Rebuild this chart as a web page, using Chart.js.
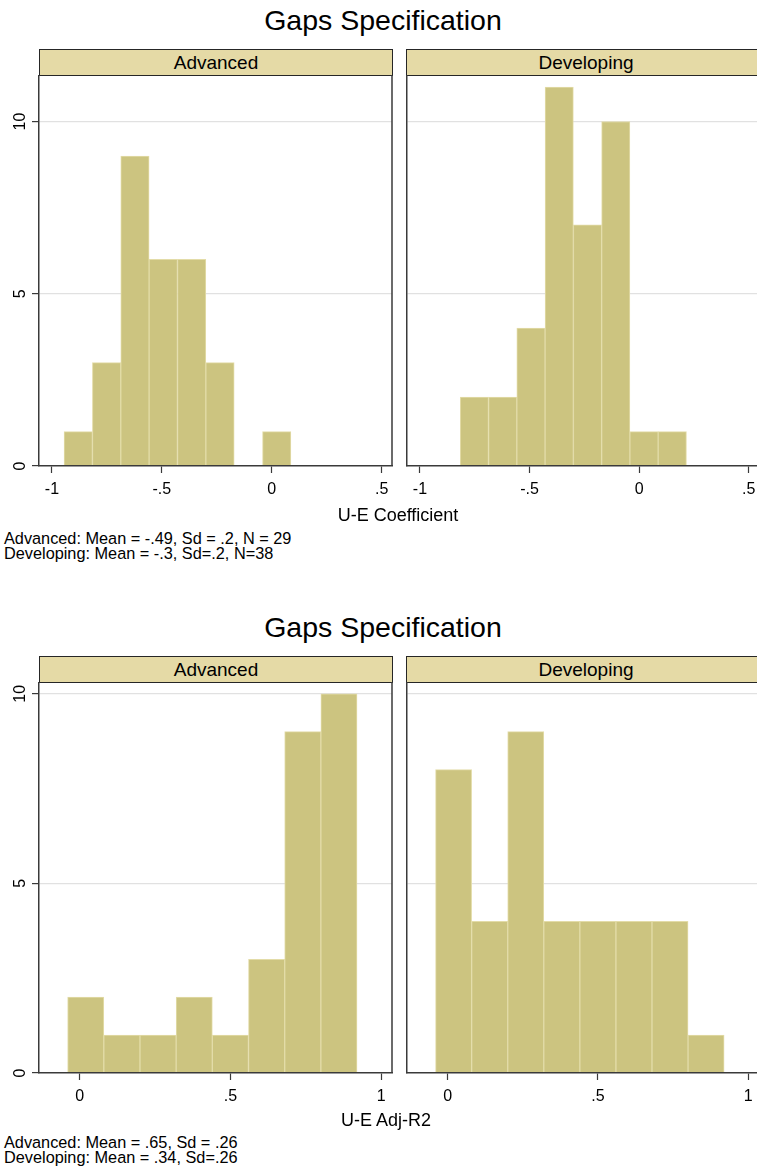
<!DOCTYPE html>
<html>
<head>
<meta charset="utf-8">
<script src="https://cdn.jsdelivr.net/npm/chart.js@4.4.1/dist/chart.umd.min.js"></script>
<style>
  html, body { margin: 0; padding: 0; background: #fff; overflow: hidden; }
  body { width: 757px; height: 1171px; position: relative; font-family: "Liberation Sans", Arial, Helvetica, sans-serif; color: #000; }
  .abs { position: absolute; }
  .title { left: 0; width: 766px; height: 30px; line-height: 30px; text-align: center; font-size: 28.5px; }
  .strip { background: #E5DAA6; border: 1.5px solid #262626; box-sizing: border-box; height: 27px;
           display: flex; align-items: center; justify-content: center; font-size: 19px; }
  .xtitle { left: 0; height: 24px; line-height: 24px; text-align: center; font-size: 18px; }
  .note { left: 4px; font-size: 16.3px; line-height: 15px; white-space: nowrap; }
  canvas { position: absolute; }
</style>
</head>
<body>
<script>
// ---- data -------------------------------------------------------------
const panelNames = ['Advanced', 'Developing'];

// U-E coefficient histogram: lower bin edges, common bin width, counts
const coefBins = [-0.945, -0.816, -0.687, -0.558, -0.429, -0.300, -0.171, -0.042, 0.087];
const coefBinWidth = 0.129;
const coefAdvanced = [1, 3, 9, 6, 6, 3, 0, 1, 0];
const coefDeveloping = [0, 2, 2, 4, 11, 7, 10, 1, 1];
const coefTicks = [-1, -0.5, 0, 0.5];
const coefTickLabels = ['-1', '-.5', '0', '.5'];
const coefRange = [-1.059, 0.547];
const coefCountMax = 11.35;

// U-E adjusted R2 histogram
const r2Bins = [-0.04, 0.08, 0.20, 0.32, 0.44, 0.56, 0.68, 0.80];
const r2BinWidth = 0.12;
const r2Advanced = [2, 1, 1, 2, 1, 3, 9, 10];
const r2Developing = [8, 4, 9, 4, 4, 4, 4, 1];
const r2Ticks = [0, 0.5, 1];
const r2TickLabels = ['0', '.5', '1'];
const r2Range = [-0.135, 1.036];
const r2CountMax = 10.31;

const countTicks = [0, 5, 10];
const countTickLabels = ['0', '5', '10'];

const figureTitle = 'Gaps Specification';
const coefAxisTitle = 'U-E Coefficient';
const r2AxisTitle = 'U-E Adj-R2';
const coefNotes = ['Advanced: Mean = -.49, Sd = .2, N = 29', 'Developing: Mean = -.3, Sd=.2, N=38'];
const r2Notes = ['Advanced: Mean = .65, Sd = .26', 'Developing: Mean = .34, Sd=.26'];

// ---- styling ----------------------------------------------------------
const BAR_FILL = '#CCC480';
const BAR_EDGE = '#E3DCA8';
const AXIS_COLOR = '#3a3a3a';
const GRID_COLOR = '#e1e1e1';
const FONT = '"Liberation Sans", Arial, Helvetica, sans-serif';
Chart.defaults.font.family = FONT;
Chart.defaults.color = '#000';

// right-hand edge of the plot frame
const frameRight = {
  id: 'frameRight',
  afterDatasetsDraw(chart) {
    const a = chart.chartArea, ctx = chart.ctx;
    ctx.save();
    ctx.strokeStyle = AXIS_COLOR;
    ctx.lineWidth = 1.5;
    ctx.beginPath();
    ctx.moveTo(a.right, a.top);
    ctx.lineTo(a.right, a.bottom);
    ctx.stroke();
    ctx.restore();
  }
};

function addDiv(cls, text, style) {
  const d = document.createElement('div');
  d.className = 'abs ' + cls;
  d.textContent = text;
  Object.assign(d.style, style);
  document.body.appendChild(d);
  return d;
}

function addPanel(opts) {
  const cv = document.createElement('canvas');
  cv.width = opts.w; cv.height = opts.h;
  cv.style.left = opts.left + 'px';
  cv.style.top = opts.top + 'px';
  cv.style.width = opts.w + 'px';
  cv.style.height = opts.h + 'px';
  document.body.appendChild(cv);

  const points = opts.bins.map((b, i) => ({ x: b + opts.binWidth / 2, y: opts.counts[i] }));

  new Chart(cv.getContext('2d'), {
    type: 'bar',
    data: {
      datasets: [{
        data: points,
        backgroundColor: BAR_FILL,
        borderColor: BAR_EDGE,
        borderWidth: 1,
        borderSkipped: 'start',
        barPercentage: 1,
        categoryPercentage: 1
      }]
    },
    options: {
      responsive: false,
      animation: false,
      events: [],
      layout: { padding: { top: 0, right: opts.padRight, bottom: 0, left: 0 } },
      plugins: { legend: { display: false }, tooltip: { enabled: false } },
      scales: {
        x: {
          type: 'linear',
          offset: false,
          min: opts.range[0],
          max: opts.range[1],
          grid: { offset: false, drawOnChartArea: false, drawTicks: true, tickLength: 7, tickColor: AXIS_COLOR, tickWidth: 1.2 },
          border: { display: true, color: AXIS_COLOR, width: 1.5, z: 1 },
          afterBuildTicks: s => { s.ticks = opts.xTicks.map(v => ({ value: v })); },
          afterFit: s => { s.height = opts.xAxisH; s.paddingLeft = 0; s.paddingRight = 0; },
          ticks: {
            autoSkip: false, maxRotation: 0, minRotation: 0, padding: 7,
            font: { size: 16 },
            callback: (v, i) => opts.xLabels[i]
          }
        },
        y: {
          min: 0,
          max: opts.yMax,
          afterBuildTicks: s => { s.ticks = countTicks.map(v => ({ value: v })); },
          afterFit: s => { s.width = opts.yAxisW; s.paddingTop = 0; s.paddingBottom = 0; },
          grid: {
            color: c => (c.tick && c.tick.value === 0) ? 'rgba(0,0,0,0)' : GRID_COLOR,
            lineWidth: 1.2,
            drawTicks: opts.showY,
            tickLength: 7,
            tickColor: AXIS_COLOR,
            tickWidth: 1.2
          },
          border: { display: true, color: AXIS_COLOR, width: 1.5, z: 1 },
          ticks: {
            display: opts.showY,
            autoSkip: false,
            minRotation: 90, maxRotation: 90,
            crossAlign: 'center',
            padding: 3,
            font: { size: 16 },
            callback: (v, i) => countTickLabels[i]
          }
        }
      }
    },
    plugins: [frameRight]
  });
}

function addFigure(f) {
  const dy = f.dy;
  addDiv('title', figureTitle, { top: (5 + dy) + 'px' });
  addDiv('strip', panelNames[0], { left: '39px', top: (49 + dy) + 'px', width: '354px' });
  addDiv('strip', panelNames[1], { left: '406px', top: (49 + dy) + 'px', width: '360px' });

  const common = { top: 75 + dy, h: 440, xAxisH: 49, bins: f.bins, binWidth: f.binWidth,
                   range: f.range, yMax: f.yMax, xTicks: f.xTicks, xLabels: f.xLabels };
  addPanel(Object.assign({}, common, { left: 0, w: 396, yAxisW: 39, padRight: 4, counts: f.advanced, showY: true }));
  addPanel(Object.assign({}, common, { left: 400, w: 362, yAxisW: 7, padRight: 3, counts: f.developing, showY: false }));

  addDiv('xtitle', f.axisTitle, { top: (503 + f.titleDy) + 'px', width: (2 * f.titleCenter) + 'px' });
  const n = addDiv('note', '', { top: (530.5 + f.noteDy) + 'px' });
  n.innerHTML = f.notes.map(t => t.replace(/&/g, '&amp;').replace(/</g, '&lt;')).join('<br>');
}

addFigure({ dy: 0, titleDy: 0, noteDy: 0, bins: coefBins, binWidth: coefBinWidth, advanced: coefAdvanced,
            developing: coefDeveloping, range: coefRange, yMax: coefCountMax, xTicks: coefTicks,
            xLabels: coefTickLabels, axisTitle: coefAxisTitle, notes: coefNotes, titleCenter: 398 });
addFigure({ dy: 607, titleDy: 605, noteDy: 604, bins: r2Bins, binWidth: r2BinWidth, advanced: r2Advanced,
            developing: r2Developing, range: r2Range, yMax: r2CountMax, xTicks: r2Ticks,
            xLabels: r2TickLabels, axisTitle: r2AxisTitle, notes: r2Notes, titleCenter: 386 });
</script>
</body>
</html>
